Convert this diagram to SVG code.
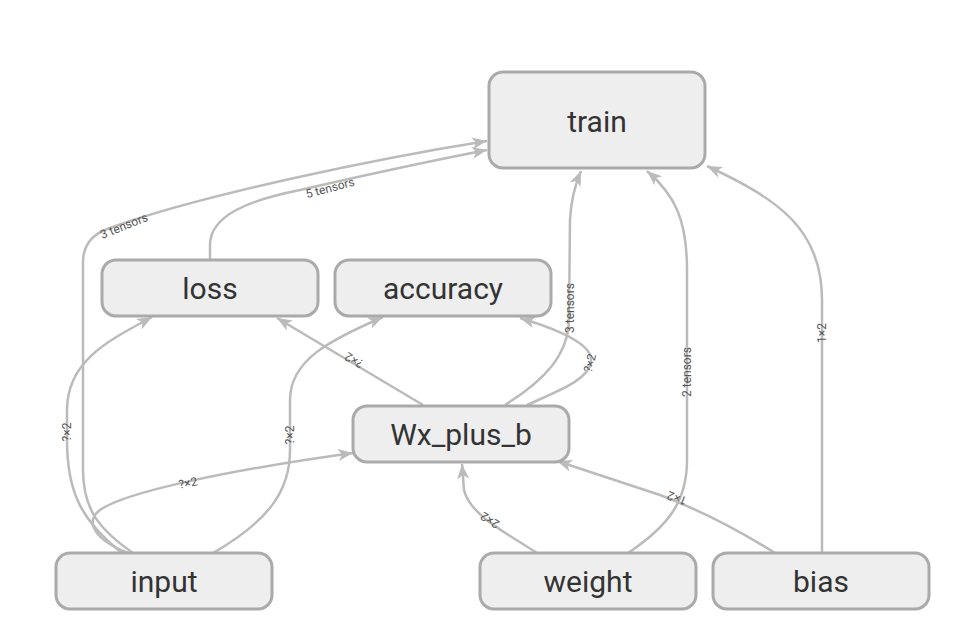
<svg xmlns="http://www.w3.org/2000/svg" width="962" height="638" viewBox="0 0 962 638">
<defs>
<marker id="arr" markerUnits="userSpaceOnUse" markerWidth="16" markerHeight="14" refX="15" refY="6" orient="auto">
<path d="M0,0 L15,6 L0,12 L4,6 z" fill="#bbb"/>
</marker>
<style>
.node rect{fill:#eee;stroke:#aaa;stroke-width:3}
.node text{font-family:Roboto,"Liberation Sans",sans-serif;font-size:30px;fill:#333;text-anchor:middle}
.edge{fill:none;stroke:#bbb;stroke-width:2.5;marker-end:url(#arr)}
.lbl{font-family:Roboto,"Liberation Sans",sans-serif;font-size:12px;fill:#555;text-anchor:middle;dominant-baseline:central}
</style>
</defs>
<rect width="962" height="638" fill="#fff"/>
<g id="connectors">
<path class="edge" d="M133,553 C100,530 83,510 83,470 L83,262 C83,245 92,234 110,228 C200,195 380,158 487,141"/>
<path class="edge" d="M210,260 L210,245 C210,215 250,200 300,190 C370,174 430,161 487,150"/>
<path class="edge" d="M122,553 C80,520 67,490 67,440 L67,410 C67,360 110,340 152,317"/>
<path class="edge" d="M213,553 C270,520 290,490 290,450 L290,400 C290,360 330,340 383,317"/>
<path class="edge" d="M128,553 C95,540 84,522 100,510 C125,492 230,470 353,453"/>
<path class="edge" d="M423,405 L277,318"/>
<path class="edge" d="M527,405 C560,390 588,380 591,362 C594,345 560,330 520,318"/>
<path class="edge" d="M505,405 C545,380 568,355 569,320 L570,220 C571,200 575,185 581,171"/>
<path class="edge" d="M628,553 C670,525 687,500 687,460 L687,270 C687,220 675,195 647,171"/>
<path class="edge" d="M537,553 C505,532 470,515 464,490 L462,464"/>
<path class="edge" d="M775,553 C735,528 700,510 660,495 L557,461"/>
<path class="edge" d="M822,553 L822,300 C822,230 780,200 707,166"/>
<text class="lbl" transform="translate(124,226) rotate(-22)">3 tensors</text>
<text class="lbl" transform="translate(330,188) rotate(-15)">5 tensors</text>
<text class="lbl" transform="translate(67,432) rotate(-90)">?×2</text>
<text class="lbl" transform="translate(290,435) rotate(-90)">?×2</text>
<text class="lbl" transform="translate(188,483) rotate(-11)">?×2</text>
<text class="lbl" transform="translate(354,360) rotate(-150)">?×2</text>
<text class="lbl" transform="translate(590,363) rotate(-75)">?×2</text>
<text class="lbl" transform="translate(570,308) rotate(-90)">3 tensors</text>
<text class="lbl" transform="translate(687,372) rotate(-90)">2 tensors</text>
<text class="lbl" transform="translate(490,520) rotate(-148)">2×2</text>
<text class="lbl" transform="translate(677,498) rotate(-160)">1×2</text>
<text class="lbl" transform="translate(822,333) rotate(-90)">1×2</text>
</g>
<g id="train" class="node"><rect x="489" y="72" width="216" height="96" rx="14"/><text x="597" y="132">train</text></g>
<g id="loss" class="node"><rect x="102" y="260" width="216" height="56" rx="14"/><text x="210" y="299">loss</text></g>
<g id="accuracy" class="node"><rect x="335" y="260" width="216" height="56" rx="14"/><text x="443" y="299">accuracy</text></g>
<g id="Wx_plus_b" class="node"><rect x="353" y="406" width="216" height="56" rx="14"/><text x="461" y="445">Wx_plus_b</text></g>
<g id="input" class="node"><rect x="56" y="553" width="216" height="56" rx="14"/><text x="164" y="592">input</text></g>
<g id="weight" class="node"><rect x="480" y="553" width="216" height="56" rx="14"/><text x="588" y="592">weight</text></g>
<g id="bias" class="node"><rect x="713" y="553" width="216" height="56" rx="14"/><text x="821" y="592">bias</text></g>
</svg>
